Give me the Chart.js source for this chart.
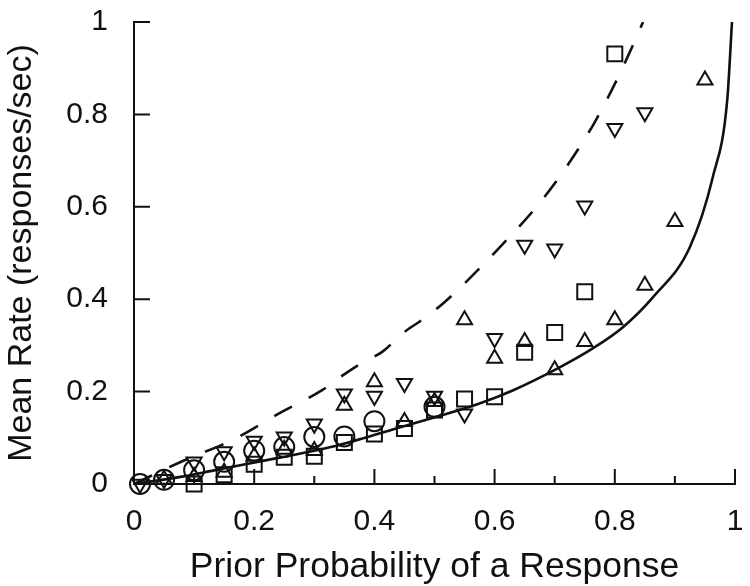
<!DOCTYPE html>
<html>
<head>
<meta charset="utf-8">
<script src="https://cdn.jsdelivr.net/npm/chart.js@4"></script>
<style>
  html, body { margin: 0; padding: 0; background: #fff; }
  #wrap { width: 750px; height: 586px; }
</style>
</head>
<body>
<div id="wrap"><canvas id="c" width="750" height="586"></canvas></div>
<script>
// ---- data ----
const xTickLabels = ["0", "0.2", "0.4", "0.6", "0.8", "1"];
const yTickLabels = ["0", "0.2", "0.4", "0.6", "0.8", "1"];

const circleP = [0.01, 0.05, 0.10, 0.15, 0.20, 0.25, 0.30, 0.35, 0.40, 0.50];
const circleY = [0.000, 0.009, 0.030, 0.048, 0.072, 0.080, 0.102, 0.103, 0.136, 0.167];

const squareP = [0.10, 0.15, 0.20, 0.25, 0.30, 0.35, 0.40, 0.45, 0.50, 0.55, 0.60, 0.65, 0.70, 0.75, 0.80];
const squareY = [0.000, 0.020, 0.043, 0.058, 0.060, 0.090, 0.108, 0.120, 0.160, 0.184, 0.189, 0.285, 0.328, 0.416, 0.931];

const upP = [0.05, 0.10, 0.15, 0.20, 0.25, 0.30, 0.35, 0.40, 0.45, 0.50, 0.55, 0.60, 0.65, 0.70, 0.75, 0.80, 0.85, 0.90, 0.95];
const upY = [0.010, 0.016, 0.025, 0.060, 0.075, 0.072, 0.170, 0.221, 0.135, 0.178, 0.355, 0.272, 0.308, 0.247, 0.308, 0.355, 0.430, 0.568, 0.874];

const downP = [0.01, 0.05, 0.10, 0.15, 0.20, 0.25, 0.30, 0.35, 0.40, 0.45, 0.50, 0.55, 0.60, 0.65, 0.70, 0.75, 0.80, 0.85];
const downY = [0.000, 0.010, 0.048, 0.070, 0.093, 0.102, 0.130, 0.195, 0.190, 0.218, 0.190, 0.152, 0.315, 0.517, 0.509, 0.602, 0.770, 0.804];

const solidP = [0, 0.08, 0.135, 0.238, 0.34, 0.443, 0.576, 0.631, 0.709, 0.764, 0.814, 0.864, 0.925, 0.963, 0.987, 0.995];
const solidY = [0, 0.016, 0.030, 0.056, 0.084, 0.123, 0.175, 0.203, 0.253, 0.294, 0.340, 0.405, 0.513, 0.664, 0.830, 1.000];

const dashedP = [0, 0.073, 0.171, 0.243, 0.313, 0.346, 0.379, 0.413, 0.448, 0.481, 0.517, 0.620, 0.676, 0.725, 0.767, 0.803, 0.834, 0.847];
const dashedY = [0, 0.045, 0.100, 0.154, 0.203, 0.234, 0.262, 0.286, 0.327, 0.357, 0.394, 0.528, 0.610, 0.697, 0.784, 0.874, 0.961, 1.000];

const xMajor = [0, 0.2, 0.4, 0.6, 0.8, 1.0];
const xMinor = [0.1, 0.3, 0.5, 0.7, 0.9];
const yMajor = [0, 0.2, 0.4, 0.6, 0.8, 1.0];

// ---- build ----
const pts = (xs, ys) => xs.map((x, i) => ({ x: x, y: ys[i] }));
const INK = '#111';
const FONT = '"Liberation Sans", Arial, Helvetica, sans-serif';

function markerSet(xs, ys, style, radius, rotation) {
  return {
    type: 'scatter',
    data: pts(xs, ys),
    showLine: false,
    pointStyle: style,
    pointRadius: radius,
    pointHoverRadius: radius,
    pointRotation: rotation || 0,
    pointBackgroundColor: 'rgba(0,0,0,0)',
    pointBorderColor: INK,
    pointBorderWidth: 2,
    clip: false
  };
}

function noLabelOverflow(s) {
  s.paddingTop = 0; s.paddingBottom = 0; s.paddingLeft = 0; s.paddingRight = 0;
}

const inwardTicks = {
  id: 'inwardTicks',
  afterDatasetsDraw(chart) {
    const { ctx, scales: { x, y } } = chart;
    ctx.save();
    ctx.strokeStyle = INK;
    ctx.lineWidth = 2;
    ctx.beginPath();
    xMajor.forEach(v => { const px = x.getPixelForValue(v); ctx.moveTo(px, y.bottom); ctx.lineTo(px, y.bottom - 15); });
    xMinor.forEach(v => { const px = x.getPixelForValue(v); ctx.moveTo(px, y.bottom); ctx.lineTo(px, y.bottom - 8); });
    yMajor.forEach(v => { const py = y.getPixelForValue(v); ctx.moveTo(x.left, py); ctx.lineTo(x.left + 16, py); });
    ctx.stroke();
    ctx.restore();
  }
};

new Chart(document.getElementById('c'), {
  type: 'scatter',
  data: {
    datasets: [
      {
        type: 'line', data: pts(solidP, solidY), borderColor: INK, borderWidth: 2.6,
        pointRadius: 0, fill: false, cubicInterpolationMode: 'monotone'
      },
      {
        type: 'line', data: pts(dashedP, dashedY), borderColor: INK, borderWidth: 2.6,
        borderDash: [20, 19], pointRadius: 0, fill: false, cubicInterpolationMode: 'monotone'
      },
      markerSet(circleP, circleY, 'circle', 10),
      markerSet(squareP, squareY, 'rect', 10.6),
      markerSet(upP, upY, 'triangle', 8.7, 0),
      markerSet(downP, downY, 'triangle', 8.7, 180)
    ]
  },
  options: {
    responsive: false,
    animation: false,
    events: [],
    layout: { padding: { left: 0, right: 15, top: 22, bottom: 0 } },
    plugins: { legend: { display: false }, tooltip: { enabled: false } },
    scales: {
      x: {
        type: 'linear', min: 0, max: 1,
        afterFit(s) { s.height = 102; noLabelOverflow(s); },
        grid: { display: false, drawTicks: false },
        border: { display: true, color: INK, width: 2 },
        ticks: {
          stepSize: 0.2, padding: 20, color: INK, maxRotation: 0,
          font: { family: FONT, size: 30 },
          callback: (v) => { const i = xMajor.findIndex(m => Math.abs(m - v) < 1e-6); return i >= 0 ? xTickLabels[i] : ''; }
        },
        title: {
          display: true, text: 'Prior Probability of a Response', color: INK,
          font: { family: FONT, size: 35.5 }, padding: { top: 0, bottom: -3 }
        }
      },
      y: {
        type: 'linear', min: 0, max: 1,
        afterFit(s) { s.width = 134; noLabelOverflow(s); },
        grid: { display: false, drawTicks: false },
        border: { display: true, color: INK, width: 2 },
        ticks: {
          stepSize: 0.2, padding: 26, color: INK,
          font: { family: FONT, size: 30 },
          callback: (v) => { const i = yMajor.findIndex(m => Math.abs(m - v) < 1e-6); return i >= 0 ? yTickLabels[i] : ''; }
        },
        title: {
          display: true, text: 'Mean Rate (responses/sec)', color: INK,
          font: { family: FONT, size: 34 }, padding: { top: 1, bottom: 0 }
        }
      }
    }
  },
  plugins: [inwardTicks]
});
</script>
</body>
</html>
